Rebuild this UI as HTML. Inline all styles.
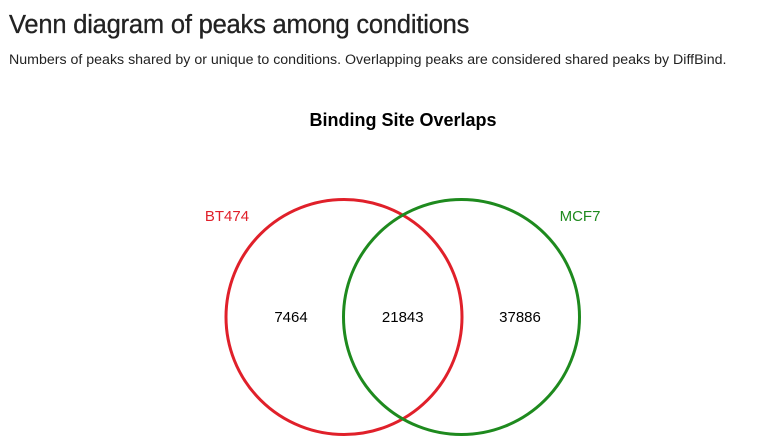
<!DOCTYPE html>
<html><head><meta charset="utf-8"><style>
body{margin:0;width:783px;height:446px;overflow:hidden;background:#fff;font-family:"Liberation Sans",sans-serif;}
h1{position:absolute;left:9px;top:11px;margin:0;font-size:25.5px;font-weight:normal;color:#222;letter-spacing:-0.2px;-webkit-text-stroke:0.3px #222}
p{position:absolute;left:9px;top:52px;margin:0;font-size:14.2px;color:#222}
svg{position:absolute;left:0;top:0}
</style></head><body>
<h1>Venn diagram of peaks among conditions</h1>
<p>Numbers of peaks shared by or unique to conditions. Overlapping peaks are considered shared peaks by DiffBind.</p>
<svg width="783" height="446">
<text x="403" y="126" text-anchor="middle" font-size="18" font-weight="bold" fill="#000">Binding Site Overlaps</text>
<g id="g"></g>
</svg>
<script>
const setNames=["BT474","MCF7"];
const setColors=["#e0202a","#1e8a1e"];
const regionCounts=[7464,21843,37886];
const g=document.getElementById('g');
const ns="http://www.w3.org/2000/svg";
const cy=317,r=118,c1=344,c2=461.5;
const cx=[c1,c2];
const labelPos=[[227,216],[580,216]];
for(let i=0;i<2;i++){
 const c=document.createElementNS(ns,'ellipse');
 
 
 c.setAttribute('cx',cx[i]);c.setAttribute('cy',cy);c.setAttribute('rx',r);c.setAttribute('ry',r-0.5);
 c.setAttribute('fill','none');c.setAttribute('stroke',setColors[i]);c.setAttribute('stroke-width','3');
 g.appendChild(c);
 const t=document.createElementNS(ns,'text');
 
 
 t.setAttribute('x',labelPos[i][0]);t.setAttribute('y',labelPos[i][1]+5);
 t.setAttribute('text-anchor','middle');t.setAttribute('font-size','15');t.setAttribute('fill',setColors[i]);
 t.textContent=setNames[i];g.appendChild(t);
}
const rx=[291,(c1+c2)/2,520];
for(let i=0;i<3;i++){
 const t=document.createElementNS(ns,'text');
 
 
 t.setAttribute('x',rx[i]);t.setAttribute('y',cy+5);
 t.setAttribute('text-anchor','middle');t.setAttribute('font-size','15');t.setAttribute('fill','#000');
 t.textContent=regionCounts[i];g.appendChild(t);
}
</script>
</body></html>
